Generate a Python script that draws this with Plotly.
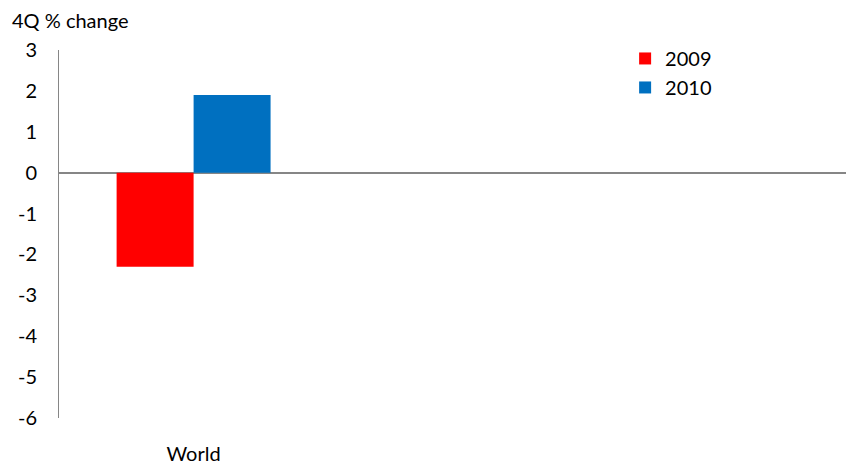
import plotly.graph_objects as go

categories = ["World", " ", "  "]
values_2009 = [-2.3, None, None]
values_2010 = [1.9, None, None]
y_ticks = [3, 2, 1, 0, -1, -2, -3, -4, -5, -6]
y_tick_labels = [str(v) for v in y_ticks]

FONT = "Lato, Calibri, Carlito, sans-serif"

fig = go.Figure()
fig.add_trace(go.Bar(x=categories, y=values_2009, name="2009",
                     marker=dict(color="#FF0000", line=dict(width=0))))
fig.add_trace(go.Bar(x=categories, y=values_2010, name="2010",
                     marker=dict(color="#0070C0", line=dict(width=0))))

fig.update_layout(
    width=854, height=468,
    margin=dict(l=51, r=0, t=42, b=58),
    paper_bgcolor="white", plot_bgcolor="white",
    font=dict(family=FONT, size=20, color="#000000"),
    barmode="group", bargap=0.428, bargroupgap=0,
    showlegend=True,
    legend=dict(x=0.705, y=1.03, xanchor="left", yanchor="top",
                bgcolor="rgba(0,0,0,0)", font=dict(size=20),
                itemwidth=30, tracegroupgap=0),
    xaxis=dict(range=[-0.5, 2.483], showgrid=False, showline=False,
               ticks="", zeroline=False, tickfont=dict(size=20),
               automargin=False, ticklabelstandoff=22),
    yaxis=dict(range=[-6, 3], tickvals=y_ticks, ticktext=y_tick_labels,
               showgrid=False, automargin=False,
               showline=True, linecolor="#868686", linewidth=1,
               zeroline=True, zerolinecolor="#868686", zerolinewidth=1.5,
               ticks="", ticklabelstandoff=17, tickfont=dict(size=20)),
    annotations=[dict(text="4Q % change", xref="paper", yref="paper",
                      x=-0.061, y=1.0, xanchor="left", yanchor="bottom",
                      yshift=16, showarrow=False, font=dict(size=20))],
)

fig.write_html("out.html")
